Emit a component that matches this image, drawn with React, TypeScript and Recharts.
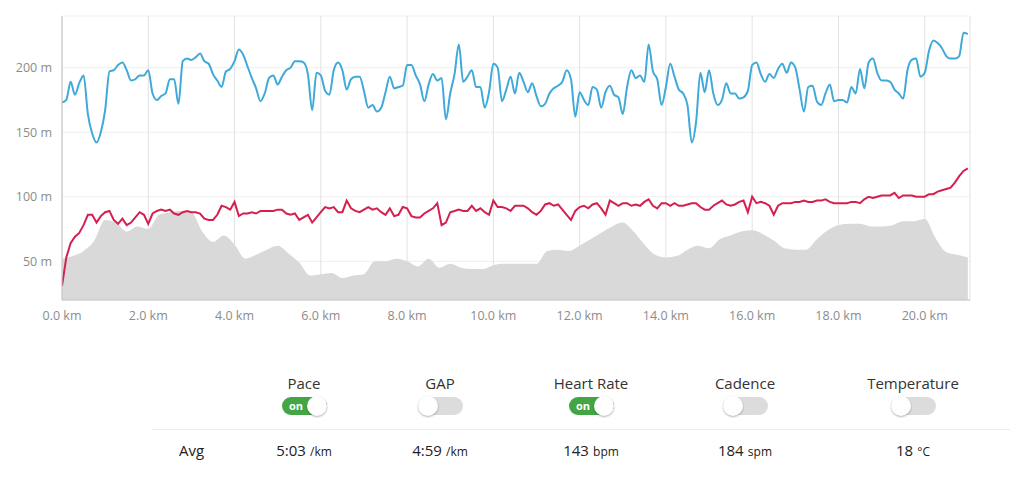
import { ComposedChart, Line, Area, XAxis, YAxis, CartesianGrid } from "recharts";

// distance grid for pace / heart rate samples (every 0.1 km)
const DIST = Array.from({ length: 211 }, (_, i) => i / 10);

// pace line (plotted on the chart's own scale)
const PACE = [
  173, 175, 189, 179, 188, 194, 164, 149, 142, 150, 167,
  197, 198, 202, 204, 198, 190, 191, 194, 194, 198,
  180, 175, 178, 180, 191, 191, 172, 205, 207, 206,
  208, 211, 205, 203, 195, 190, 185, 197, 199, 205,
  214, 210, 201, 192, 184, 174, 180, 192, 194, 187,
  193, 198, 200, 205, 205, 204, 195, 167, 196, 194,
  182, 179, 198, 204, 198, 183, 191, 193, 193, 182,
  169, 171, 166, 169, 181, 193, 184, 185, 186, 202,
  202, 194, 187, 174, 187, 195, 190, 192, 160, 180,
  195, 218, 189, 193, 198, 185, 185, 169, 181, 203,
  200, 174, 183, 193, 180, 196, 189, 181, 188, 178,
  170, 172, 180, 184, 186, 189, 198, 191, 162, 181,
  175, 171, 185, 183, 169, 181, 186, 179, 177, 164,
  185, 198, 192, 194, 189, 218, 197, 191, 171, 185,
  203, 193, 183, 180, 171, 142, 158, 196, 181, 198,
  180, 171, 175, 188, 180, 180, 176, 177, 182, 202,
  204, 195, 189, 195, 192, 199, 203, 196, 204, 200,
  183, 166, 185, 186, 174, 171, 180, 187, 174, 175,
  175, 173, 185, 180, 199, 184, 204, 207, 196, 190,
  190, 189, 183, 180, 176, 198, 206, 207, 193, 196,
  213, 221, 219, 215, 209, 207, 207, 209, 227, 226,
];

// heart rate line
const HR = [
  31, 53, 64, 69, 72, 78, 86, 86, 80, 85, 88,
  89, 82, 79, 83, 78, 80, 84, 88, 86, 79,
  87, 89, 90, 89, 90, 87, 86, 88, 89, 88,
  88, 87, 83, 82, 82, 86, 93, 92, 90, 96,
  85, 87, 87, 88, 87, 89, 89, 89, 89, 90,
  90, 87, 86, 87, 82, 84, 86, 80, 84, 88,
  92, 91, 92, 88, 88, 97, 91, 89, 88, 90,
  92, 90, 91, 88, 86, 91, 85, 86, 92, 91,
  85, 84, 84, 87, 89, 91, 95, 78, 80, 88,
  89, 90, 89, 89, 93, 89, 91, 88, 86, 97,
  92, 92, 91, 89, 93, 93, 93, 91, 88, 86,
  89, 94, 95, 93, 94, 90, 86, 82, 89, 92,
  93, 91, 94, 95, 91, 86, 97, 95, 93, 95,
  95, 93, 94, 93, 96, 98, 93, 91, 95, 95,
  93, 95, 93, 93, 94, 95, 95, 92, 90, 90,
  93, 95, 97, 94, 93, 94, 96, 97, 88, 100,
  95, 96, 95, 93, 86, 93, 95, 95, 95, 96,
  96, 97, 96, 96, 97, 97, 98, 96, 95, 95,
  95, 95, 96, 96, 95, 98, 100, 99, 100, 101,
  101, 101, 103, 99, 101, 101, 101, 100, 100, 100,
  102, 102, 104, 105, 106, 107, 111, 116, 120, 122,
];

// elevation profile, every 0.25 km
const ELEV_DIST = Array.from({ length: 85 }, (_, i) => i / 4);
const ELEV = [
  52, 54, 58, 66, 82, 80, 73, 77, 75, 86, 88, 89, 88,
  73, 65, 70, 63, 52, 55, 59, 62, 56, 49, 39,
  40, 41, 37, 39, 40, 50, 50, 52, 50, 46, 52, 45,
  48, 45, 44, 44, 47, 48, 48, 48, 48, 58, 59, 58,
  62, 67, 72, 77, 80, 73, 63, 55, 53, 54, 59, 62,
  60, 67, 70, 73, 74, 71, 66, 60, 59, 59, 67, 74,
  78, 79, 79, 77, 77, 78, 81, 81, 83, 68, 57, 55, 53,
];

const X_TICKS = [0, 2, 4, 6, 8, 10, 12, 14, 16, 18, 20];
const Y_TICKS = [50, 100, 150, 200];

const STREAMS = ["Pace", "GAP", "Heart Rate", "Cadence", "Temperature"];
const STREAM_ON = [true, false, true, false, false];
const AVG_VALUES = ["5:03", "4:59", "143", "184", "18"];
const AVG_UNITS = ["/km", "/km", "bpm", "spm", "°C"];
const COL_X = [304, 440, 591, 745, 913];

const FONT = "'Open Sans', 'Liberation Sans', sans-serif";

const lineData = DIST.map((km, i) => ({ km, pace: PACE[i], hr: HR[i] }));
const elevData = ELEV_DIST.map((km, i) => ({ km, elev: ELEV[i] }));

function Toggle({ on }: { on: boolean }) {
  return (
    <div
      style={{
        position: "relative",
        width: 45,
        height: 18,
        borderRadius: 9,
        background: on ? "#43a544" : "#dcdcdc",
      }}
    >
      {on && (
        <span
          style={{
            position: "absolute",
            left: 7,
            top: 1,
            fontSize: 11,
            fontWeight: 700,
            color: "#fff",
            fontFamily: FONT,
            lineHeight: "16px",
          }}
        >
          on
        </span>
      )}
      <div
        style={{
          position: "absolute",
          top: -1,
          left: on ? 25 : 0,
          width: 20,
          height: 20,
          borderRadius: 10,
          background: "#fff",
          boxShadow: "0 1px 2px rgba(0,0,0,0.3)",
        }}
      />
    </div>
  );
}

export default function App() {
  return (
    <div
      style={{
        position: "absolute",
        left: 0,
        top: 0,
        width: 1024,
        height: 481,
        background: "#fff",
        fontFamily: FONT,
      }}
    >
      <ComposedChart
        width={1024}
        height={330}
        margin={{ top: 16, right: 54, bottom: 0, left: 0 }}
      >
        {/* horizontal lines are fainter than the km lines */}
        <CartesianGrid vertical={false} stroke="#efefef" />
        <CartesianGrid horizontal={false} stroke="#e2e2e2" />
        <XAxis
          dataKey="km"
          type="number"
          domain={[0, 21.05]}
          ticks={X_TICKS}
          tickFormatter={(v: number) => `${v.toFixed(1)} km`}
          stroke="#c4c4c4"
          tickLine={false}
          tickSize={0}
          tickMargin={11}
          height={30}
          tick={{ fill: "#8c8c8c", fontSize: 12.5, fontFamily: FONT }}
          allowDataOverflow
        />
        <YAxis
          type="number"
          domain={[20, 240]}
          ticks={Y_TICKS}
          tickFormatter={(v: number) => `${v} m`}
          stroke="#c4c4c4"
          tickLine={false}
          tickSize={0}
          tickMargin={10}
          width={62}
          tick={{ fill: "#8c8c8c", fontSize: 12.5, fontFamily: FONT }}
          allowDataOverflow
        />
        <Area
          data={elevData}
          dataKey="elev"
          type="monotone"
          fill="#d9d9d9"
          fillOpacity={1}
          stroke="none"
          isAnimationActive={false}
        />
        <Line
          data={lineData}
          dataKey="hr"
          type="linear"
          stroke="#d41f4f"
          strokeWidth={2}
          dot={false}
          isAnimationActive={false}
        />
        <Line
          data={lineData}
          dataKey="pace"
          type="monotone"
          stroke="#3fa9d9"
          strokeWidth={2}
          dot={false}
          isAnimationActive={false}
        />
      </ComposedChart>

      {/* stream toggles */}
      {STREAMS.map((name, i) => (
        <div
          key={name}
          style={{
            position: "absolute",
            left: COL_X[i] - 80,
            width: 160,
            top: 373,
            textAlign: "center",
            fontSize: 15,
            color: "#333",
            lineHeight: "20px",
          }}
        >
          {name}
        </div>
      ))}
      {STREAMS.map((name, i) => (
        <div
          key={name + "-t"}
          style={{ position: "absolute", left: COL_X[i] - 22, top: 397 }}
        >
          <Toggle on={STREAM_ON[i]} />
        </div>
      ))}

      <div
        style={{
          position: "absolute",
          left: 152,
          width: 858,
          top: 429,
          height: 1,
          background: "#ececec",
        }}
      />

      <div
        style={{
          position: "absolute",
          left: 179,
          top: 440,
          fontSize: 15,
          color: "#222",
          lineHeight: "20px",
        }}
      >
        Avg
      </div>
      {AVG_VALUES.map((val, i) => (
        <div
          key={val + i}
          style={{
            position: "absolute",
            left: COL_X[i] - 80,
            width: 160,
            top: 440,
            textAlign: "center",
            color: "#222",
            lineHeight: "20px",
          }}
        >
          <span style={{ fontSize: 15, fontWeight: 500 }}>{val}</span>{" "}
          <span style={{ fontSize: 12 }}>{AVG_UNITS[i]}</span>
        </div>
      ))}
    </div>
  );
}
